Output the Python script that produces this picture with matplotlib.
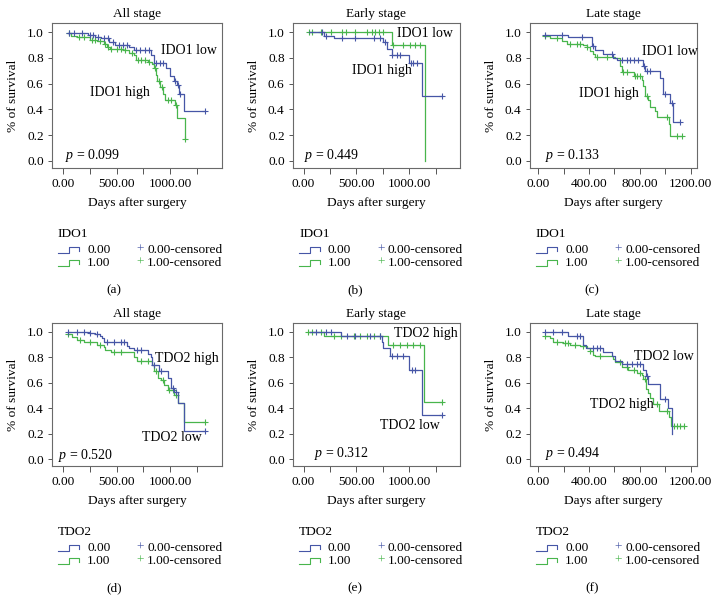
import matplotlib
matplotlib.use('Agg')
import matplotlib.pyplot as plt
from matplotlib.lines import Line2D
import numpy as np

plt.rcParams['font.family'] = ['Liberation Serif', 'DejaVu Serif']
plt.rcParams['mathtext.fontset'] = 'custom'
plt.rcParams['mathtext.it'] = 'Liberation Serif:italic'
plt.rcParams['mathtext.rm'] = 'Liberation Serif'

BLUE = '#4656a6'
GREEN = '#48b54c'
W, H = 717, 609
FS = 9.6

# ---- (a) IDO1, all stage ----
a_blue_t = [53, 235, 300, 360, 430, 490, 620, 660, 820, 850, 960, 1000, 1030, 1060, 1080, 1130]
a_blue_s = [0.99, 0.98, 0.96, 0.95, 0.92, 0.90, 0.88, 0.86, 0.82, 0.76, 0.72, 0.66, 0.62, 0.59, 0.52, 0.39]
a_blue_end = 1320
a_blue_cens = [60, 100, 180, 250, 280, 330, 380, 420, 470, 520, 560, 600, 680, 720, 760, 800,
               870, 900, 930, 1040, 1070, 1090, 1320]
a_green_t = [53, 75, 130, 250, 320, 380, 410, 440, 560, 620, 660, 680, 790, 830, 850, 870, 880,
             900, 930, 950, 1040, 1060, 1140]
a_green_s = [0.99, 0.97, 0.96, 0.94, 0.93, 0.91, 0.88, 0.87, 0.86, 0.84, 0.82, 0.78, 0.77, 0.75,
             0.72, 0.67, 0.62, 0.57, 0.52, 0.47, 0.43, 0.33, 0.17]
a_green_end = 1140
a_green_cens = [60, 150, 200, 270, 300, 350, 390, 425, 450, 500, 540, 580, 640, 700, 730, 760,
                800, 860, 890, 920, 980, 1010, 1050, 1140]

# ---- (b) IDO1, early stage ----
b_blue_t = [53, 194, 290, 756, 790, 834, 1000, 1125]
b_blue_s = [1.0, 0.97, 0.95, 0.92, 0.87, 0.82, 0.76, 0.50]
b_blue_end = 1312
b_blue_cens = [178, 209, 366, 490, 662, 725, 772, 840, 881, 912, 1012, 1037, 1069, 1312]
b_green_t = [53, 834, 1147]
b_green_s = [1.0, 0.90, 0.0]
b_green_end = 1147
b_green_cens = [53, 84, 163, 256, 366, 397, 490, 600, 647, 678, 709, 756, 850, 944, 1006, 1053, 1100]

# ---- (c) IDO1, late stage ----
c_blue_t = [53, 237, 421, 447, 513, 592, 618, 828, 842, 960, 981, 1034, 1060]
c_blue_s = [0.975, 0.96, 0.89, 0.86, 0.83, 0.80, 0.78, 0.74, 0.70, 0.64, 0.52, 0.45, 0.30]
c_blue_end = 1118
c_blue_cens = [53, 184, 342, 434, 579, 658, 697, 723, 755, 789, 834, 855, 881, 999, 1052, 1118]
c_green_t = [53, 92, 184, 224, 355, 381, 408, 434, 447, 605, 644, 658, 750, 815, 828, 842, 868,
             881, 921, 934, 1026, 1039]
c_green_s = [0.97, 0.95, 0.93, 0.91, 0.90, 0.88, 0.85, 0.83, 0.81, 0.80, 0.74, 0.69, 0.66, 0.63,
             0.58, 0.50, 0.47, 0.42, 0.39, 0.34, 0.29, 0.19]
c_green_end = 1131
c_green_cens = [53, 145, 250, 302, 329, 385, 460, 539, 671, 697, 760, 776, 802, 855, 1013, 1091, 1131]

# ---- (d) TDO2, all stage ----
d_blue_t = [53, 241, 303, 350, 366, 381, 594, 616, 662, 788, 819, 834, 897, 975, 1006, 1037, 1069, 1131]
d_blue_s = [1.0, 0.99, 0.98, 0.97, 0.95, 0.92, 0.89, 0.87, 0.86, 0.83, 0.80, 0.74, 0.69, 0.64,
            0.56, 0.53, 0.44, 0.22]
d_blue_end = 1319
d_blue_cens = [53, 131, 194, 256, 319, 412, 475, 538, 569, 694, 725, 850, 912, 1022, 1053, 1319]
d_green_t = [53, 84, 131, 194, 319, 381, 397, 444, 662, 694, 834, 850, 881, 912, 944, 975, 1037, 1069, 1131]
d_green_s = [0.98, 0.96, 0.94, 0.92, 0.90, 0.88, 0.86, 0.84, 0.80, 0.77, 0.74, 0.69, 0.64, 0.62,
             0.58, 0.54, 0.50, 0.44, 0.29]
d_green_end = 1319
d_green_cens = [53, 162, 256, 350, 475, 538, 725, 788, 866, 928, 991, 1022, 1053, 1319]

# ---- (e) TDO2, early stage ----
e_blue_t = [60, 350, 740, 756, 819, 1000, 1125]
e_blue_s = [1.0, 0.97, 0.92, 0.87, 0.81, 0.70, 0.35]
e_blue_end = 1312
e_blue_cens = [116, 209, 256, 412, 490, 631, 725, 834, 881, 944, 1022, 1053, 1312]
e_green_t = [40, 194, 803, 1137]
e_green_s = [1.0, 0.97, 0.90, 0.45]
e_green_end = 1312
e_green_cens = [40, 84, 162, 288, 350, 475, 538, 600, 662, 725, 850, 912, 975, 1037, 1100, 1312]

# ---- (f) TDO2, late stage ----
f_blue_t = [53, 237, 350, 376, 508, 579, 605, 658, 828, 847, 868, 960, 1018, 1052]
f_blue_s = [1.0, 0.97, 0.90, 0.87, 0.84, 0.81, 0.77, 0.75, 0.70, 0.65, 0.59, 0.47, 0.40, 0.20]
f_blue_end = 1052
f_blue_cens = [53, 118, 184, 302, 329, 434, 460, 487, 697, 736, 776, 802, 855, 999]
f_green_t = [53, 92, 118, 197, 250, 329, 381, 408, 434, 447, 592, 605, 658, 710, 776, 815, 828,
             849, 868, 881, 907, 947, 1026, 1044]
f_green_s = [0.97, 0.95, 0.92, 0.91, 0.90, 0.89, 0.87, 0.85, 0.82, 0.81, 0.79, 0.76, 0.72, 0.70,
             0.68, 0.66, 0.63, 0.55, 0.52, 0.48, 0.43, 0.38, 0.33, 0.26]
f_green_end = 1144
f_green_cens = [53, 145, 210, 237, 289, 355, 410, 487, 644, 697, 750, 802, 842, 934, 1013, 1065,
                1091, 1118, 1144]

titles = ['All stage', 'Early stage', 'Late stage', 'All stage', 'Early stage', 'Late stage']
genes = ['IDO1', 'IDO1', 'IDO1', 'TDO2', 'TDO2', 'TDO2']
pvals = ['0.099', '0.449', '0.133', '0.520', '0.312', '0.494']
letters = ['(a)', '(b)', '(c)', '(d)', '(e)', '(f)']
# group labels: (text, x, y) in data units; None marks the p value
labels = [
    [('IDO1 low', 912, 0.86), ('IDO1 high', 256, 0.53), (None, 22, 0.04)],
    [('IDO1 low', 881, 0.99), ('IDO1 high', 460, 0.70), (None, 6, 0.04)],
    [('IDO1 low', 815, 0.85), ('IDO1 high', 323, 0.52), (None, 53, 0.04)],
    [('TDO2 high', 856, 0.79), ('TDO2 low', 740, 0.17), (None, -40, 0.03)],
    [('TDO2 high', 856, 0.99), ('TDO2 low', 719, 0.26), (None, 100, 0.04)],
    [('TDO2 low', 750, 0.81), ('TDO2 high', 408, 0.43), (None, 53, 0.04)],
]

panels = [
    ((a_blue_t, a_blue_s, a_blue_end, a_blue_cens), (a_green_t, a_green_s, a_green_end, a_green_cens)),
    ((b_blue_t, b_blue_s, b_blue_end, b_blue_cens), (b_green_t, b_green_s, b_green_end, b_green_cens)),
    ((c_blue_t, c_blue_s, c_blue_end, c_blue_cens), (c_green_t, c_green_s, c_green_end, c_green_cens)),
    ((d_blue_t, d_blue_s, d_blue_end, d_blue_cens), (d_green_t, d_green_s, d_green_end, d_green_cens)),
    ((e_blue_t, e_blue_s, e_blue_end, e_blue_cens), (e_green_t, e_green_s, e_green_end, e_green_cens)),
    ((f_blue_t, f_blue_s, f_blue_end, f_blue_cens), (f_green_t, f_green_s, f_green_end, f_green_cens)),
]

# axes boxes in pixels
col_px = [(52, 222), (293, 460), (530, 697)]
row_px = [(23, 168), (323, 466)]
legend_top = [234, 532]


def draw_curve(ax, t, s, end, cens, color):
    x = list(t) + [end]
    y = list(s) + [s[-1]]
    ax.step(x, y, where='post', color=color, lw=0.9)
    idx = np.searchsorted(np.array(t), np.array(cens), side='right') - 1
    idx = np.clip(idx, 0, len(s) - 1)
    ax.plot(cens, np.array(s)[idx], ls='none', marker='+', ms=4, mew=0.8, color=color)


fig = plt.figure(figsize=(W / 100, H / 100), dpi=100)

for i, (blue, green) in enumerate(panels):
    r, c = divmod(i, 3)
    l, rr = col_px[c]
    t, b = row_px[r]
    ax = fig.add_axes([l / W, 1 - b / H, (rr - l) / W, (b - t) / H])
    draw_curve(ax, *green, GREEN)
    draw_curve(ax, *blue, BLUE)

    if c == 2:
        ax.set_xlim(-65, 1250)
        ax.set_xticks([0, 400, 800, 1200])
        ax.set_xticks([200, 600, 1000], minor=True)
    else:
        ax.set_xlim(-100, 1480)
        ax.set_xticks([0, 500, 1000])
        ax.set_xticks([250, 750, 1250], minor=True)
    ax.set_xticklabels([f'{v:.2f}' for v in ax.get_xticks()])
    ax.set_ylim(-0.055, 1.07)
    ax.set_yticks([0, 0.2, 0.4, 0.6, 0.8, 1.0])
    ax.set_yticklabels([f'{v:.1f}' for v in ax.get_yticks()])
    ax.tick_params(axis='both', which='both', direction='out', labelsize=FS, color='#555555', width=0.7)
    ax.tick_params(axis='x', which='both', length=4, pad=3)
    ax.tick_params(axis='y', length=3, pad=3)
    for sp in ax.spines.values():
        sp.set_color('#6a6a6a')
        sp.set_linewidth(0.8)

    ax.set_title(titles[i], fontsize=FS, pad=4)
    ax.set_xlabel('Days after surgery', fontsize=FS, labelpad=5)
    ax.set_ylabel('% of survival', fontsize=FS, labelpad=6)

    for txt, x, y in labels[i]:
        if txt is None:
            ax.text(x, y, r'$p$ = ' + pvals[i], fontsize=FS + 0.4, va='center', ha='left')
        else:
            ax.text(x, y, txt, fontsize=FS + 0.4, va='center', ha='left')

    # legend below the panel
    ly = legend_top[r]
    fig.text((l + 6) / W, 1 - ly / H, genes[i], fontsize=FS, va='center', ha='left')
    for k, (col, lab) in enumerate([(BLUE, '0.00'), (GREEN, '1.00')]):
        yy = ly + 16 + 13 * k
        gx = [l + 6, l + 17, l + 17, l + 27, l + 27]
        gy = [yy + 3, yy + 3, yy - 3, yy - 3, yy + 1]
        fig.add_artist(Line2D([v / W for v in gx], [1 - v / H for v in gy], color=col, lw=0.8))
        fig.text((l + 35) / W, 1 - yy / H, lab, fontsize=FS, va='center', ha='left')
        fig.text((l + 88) / W, 1 - yy / H, '+', fontsize=FS, va='center', ha='center', color=col)
        fig.text((l + 95) / W, 1 - yy / H, lab + '-censored', fontsize=FS, va='center', ha='left')
    fig.text((l + 62) / W, 1 - (ly + 56) / H, letters[i], fontsize=FS, va='center', ha='center')

fig.savefig('out.png', dpi=100)
